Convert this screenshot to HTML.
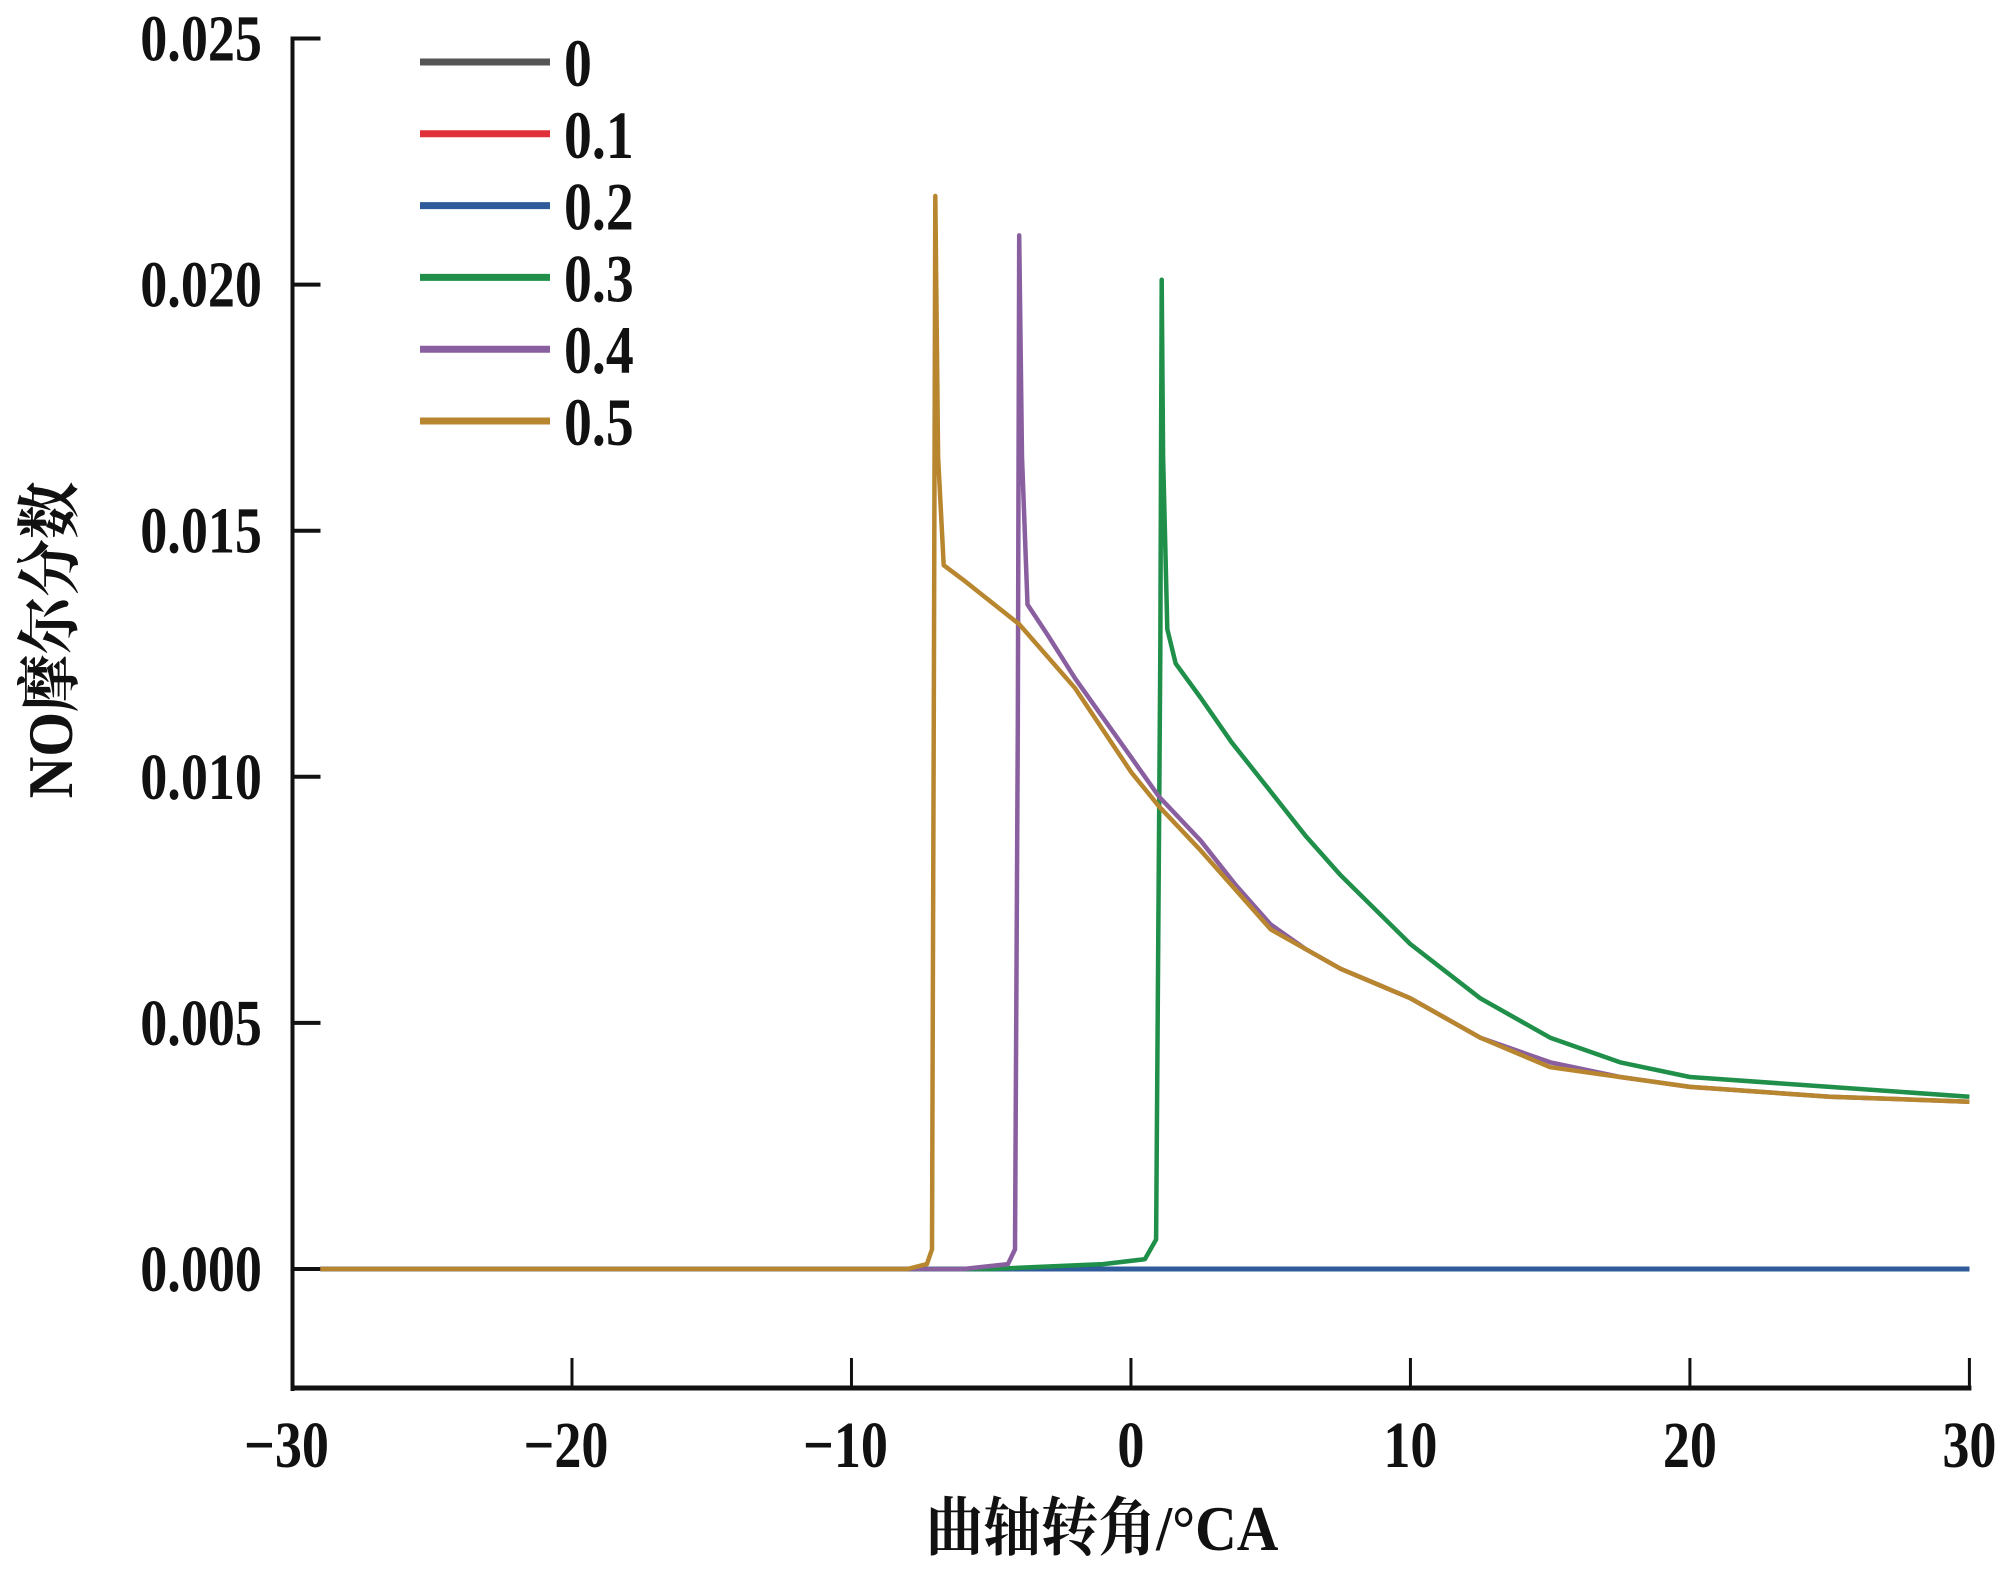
<!DOCTYPE html>
<html><head><meta charset="utf-8">
<style>
html,body{margin:0;padding:0;background:#fff;}
svg text{font-family:"Liberation Serif","Noto Serif CJK SC",serif;fill:#111;font-weight:bold;}
</style></head>
<body>
<svg id="chart" width="2012" height="1572" viewBox="0 0 2012 1572" xmlns="http://www.w3.org/2000/svg">
<g id="plot"></g>
</svg>
<script>
const xTicks=[-30,-20,-10,0,10,20,30];
const yTicks=[0,0.005,0.010,0.015,0.020,0.025];
const yTickLabels=["0.000","0.005","0.010","0.015","0.020","0.025"];
const seriesNames=["0","0.1","0.2","0.3","0.4","0.5"];
const seriesColors=["#555555","#e0303a","#2f5b9a","#1f8f4a","#8a5fa0","#b8862e"];
const s0x=[-29,30]; const s0y=[0,0];
const s1x=[-29,30]; const s1y=[0,0];
const s2x=[-29,30]; const s2y=[0,0];
const s3x=[-29,-5,-1,0.5,0.9,1.05,1.1,1.15,1.3,1.6,2.5,3.6,5,6.25,7.5,8.75,10,12.5,15,17.5,20,25,30];
const s3y=[0,0,0.0001,0.0002,0.0006,0.0125,0.0201,0.0165,0.0130,0.0123,0.0116,0.0107,0.0097,0.0088,0.0080,0.0073,0.0066,0.0055,0.0047,0.0042,0.0039,0.0037,0.0035];
const s4x=[-29,-6,-4.4,-4.15,-4.05,-4.0,-3.9,-3.7,-3,-2,0,1,2.5,3.75,5,6.25,7.5,8.75,10,12.5,15,17.5,20,25,30];
const s4y=[0,0,0.0001,0.0004,0.0110,0.0210,0.0165,0.0135,0.0129,0.0120,0.0104,0.0096,0.0087,0.0078,0.0070,0.0065,0.0061,0.0058,0.0055,0.0047,0.0042,0.0039,0.0037,0.0035,0.0034];
const s5x=[-29,-8,-7.3,-7.12,-7.05,-7.0,-6.9,-6.7,-6,-4,-2,0,1,2.5,3.75,5,6.25,7.5,8.75,10,12.5,15,17.5,20,25,30];
const s5y=[0,0,0.0001,0.0004,0.0120,0.0218,0.0165,0.0143,0.0140,0.0131,0.0118,0.0101,0.0094,0.0085,0.0077,0.0069,0.0065,0.0061,0.0058,0.0055,0.0047,0.0041,0.0039,0.0037,0.0035,0.0034];
const seriesX=[s0x,s1x,s2x,s3x,s4x,s5x];
const seriesY=[s0y,s1y,s2y,s3y,s4y,s5y];

const NS="http://www.w3.org/2000/svg";
const g=document.getElementById('plot');
const L=292.5,R=1969.4,Y0=1269,Ytop=38.5,Bot=1388;
function sx(v){return L+(v+30)/60*(R-L);}
function sy(v){return Y0-v/0.025*(Y0-Ytop);}
function mk(t,a){const e=document.createElementNS(NS,t);for(const k in a)e.setAttribute(k,a[k]);g.appendChild(e);return e;}
function txt(x,y,s,anchor,str,sxf){const e=mk('text',{x:0,y:0,'font-size':s,'text-anchor':anchor,transform:`translate(${x},${y}) scale(${sxf},1)`});e.textContent=str;return e;}

let e=mk('line',{x1:L,y1:Ytop-2,x2:L,y2:Bot+3,stroke:'#111','stroke-width':4});


e=mk('line',{x1:L-2,y1:Bot,x2:R+2,y2:Bot,stroke:'#111','stroke-width':5});


yTicks.forEach((v,i)=>{
  let t=mk('line',{x1:L,y1:sy(v),x2:L+28,y2:sy(v),stroke:'#111','stroke-width':4});
  
  
  let tx=txt(262,sy(v)+22,66,'end',yTickLabels[i],0.82);
  
  
});
xTicks.forEach(v=>{
  let t=mk('line',{x1:sx(v),y1:Bot,x2:sx(v),y2:Bot-30,stroke:'#111','stroke-width':3});
  
  
  let tx=txt(sx(v)-(v<0?6:0),1467,66,'middle',(v<0?'\u2212':'')+Math.abs(v),0.82);
  
  
});
for(let i=0;i<seriesX.length;i++){
  const pts=seriesX[i].map((x,j)=>sx(x).toFixed(1)+','+sy(seriesY[i][j]).toFixed(1)).join(' ');
  let p=mk('polyline',{points:pts,fill:'none',stroke:seriesColors[i],'stroke-width':i===2?5:4.5,'stroke-linejoin':'round'});
  
  
}
let bl=mk('line',{x1:sx(1.2),y1:sy(0),x2:sx(30),y2:sy(0),stroke:seriesColors[2],'stroke-width':5});


seriesNames.forEach((n,i)=>{
  const y=62+i*71.8;
  let l=mk('line',{x1:420,y1:y,x2:550,y2:y,stroke:seriesColors[i],'stroke-width':7});
  
  
  let t=txt(564,y+24,68,'start',n,0.82);
  
  
});
let xt=txt(1102,1550,64,'middle','曲轴转角/°CA',0.9);


let yt=mk('text',{x:0,y:0,'font-size':64,'text-anchor':'middle',transform:'translate(72,640) rotate(-90) scale(0.9,1)'});
yt.textContent='NO摩尔分数';


</script>
</body></html>
